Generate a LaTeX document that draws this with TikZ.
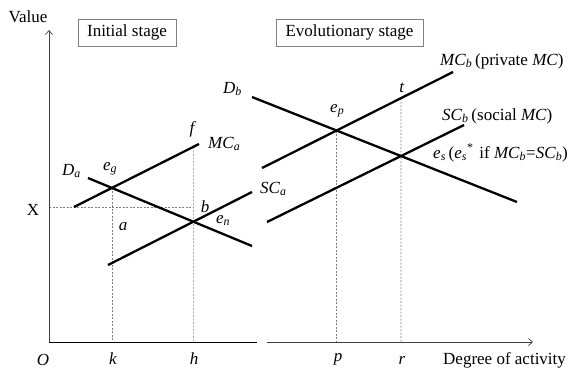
\documentclass[tikz,border=0pt]{standalone}
\usepackage{fontspec}
\setmainfont{Liberation Serif}
\usetikzlibrary{arrows.meta}
\newcommand\ilab[2]{\textit{#1}\textsubscript{\textit{#2}}}
\begin{document}
\begin{tikzpicture}[x=1pt,y=-1pt,
  font=\fontsize{17}{20}\selectfont,
  curve/.style={line width=2.3pt},
  axisline/.style={line width=0.8pt, black!75},
  axisarrow/.style={-{Straight Barb[length=4pt,width=7pt,line width=0.7pt]}},
  guide/.style={gray, line width=0.6pt, dash pattern=on 2pt off 1.5pt},
  stagebox/.style={draw=gray, line width=0.7pt, inner sep=0pt, minimum height=27pt,
    text height=11.5pt, text depth=3.5pt},
  lbl/.style={inner sep=0pt, anchor=base},
  lblw/.style={inner sep=0pt, anchor=base west}]
\useasboundingbox (0,0) rectangle (575,368);

% axes
\coordinate (O) at (49,342);
\coordinate (ytop) at (49,30);
\coordinate (xendA) at (257,342);
\coordinate (xstartB) at (267,342);
\coordinate (xend) at (533,342);

% curve end points
\coordinate (MCa1) at (74,207);  \coordinate (MCa2) at (199,144);
\coordinate (Da1) at (88,178);   \coordinate (Da2) at (252,246);
\coordinate (SCa1) at (108,265); \coordinate (SCa2) at (252,192);
\coordinate (Db1) at (252,97);   \coordinate (Db2) at (517,202);
\coordinate (MCb1) at (262,168); \coordinate (MCb2) at (453,72);
\coordinate (SCb1) at (267,222); \coordinate (SCb2) at (464,125);

% intersections
\coordinate (eg) at (intersection of MCa1--MCa2 and Da1--Da2);
\coordinate (en) at (intersection of SCa1--SCa2 and Da1--Da2);
\coordinate (ep) at (intersection of MCb1--MCb2 and Db1--Db2);
\coordinate (es) at (intersection of SCb1--SCb2 and Db1--Db2);
\coordinate (kfoot) at (eg |- O);
\coordinate (hfoot) at (en |- O);
\coordinate (pfoot) at (ep |- O);
\coordinate (rfoot) at (es |- O);
\coordinate (fpt) at (intersection of MCa1--MCa2 and en--hfoot);
\coordinate (tpt) at (intersection of MCb1--MCb2 and es--rfoot);
\coordinate (Xleft) at (O |- MCa1);
\coordinate (Xright) at (en |- MCa1);

% guides
\draw[guide] (Xleft) -- (Xright);
\draw[guide] (eg) -- (kfoot);
\draw[guide] (fpt) -- (hfoot);
\draw[guide] (ep) -- (pfoot);
\draw[guide] (tpt) -- (rfoot);

% axes
\draw[axisline,axisarrow] (O) -- (ytop);
\draw[axisline,black,line width=1pt] (O) -- (xendA);
\draw[axisline,axisarrow] (xstartB) -- (xend);

% curves
\draw[curve] (MCa1) -- (MCa2);
\draw[curve] (Da1) -- (Da2);
\draw[curve] (SCa1) -- (SCa2);
\draw[curve] (Db1) -- (Db2);
\draw[curve] (MCb1) -- (MCb2);
\draw[curve] (SCb1) -- (SCb2);

% boxes
\node[stagebox, minimum width=98pt] (initbox) at (127,32.5) {Initial stage};
\node[stagebox, minimum width=147pt] (evobox) at (349.5,32.5) {Evolutionary stage};

% axis labels
\node[lbl] (value) at (28,22) {Value};
\node[lblw] (degree) at (443,364) {Degree of activity};
\node[lbl] (Olab) at (43,365) {\textit{O}};
\node[lbl] (klab) at (113,364) {\textit{k}};
\node[lbl] (hlab) at (194,364) {\textit{h}};
\node[lbl] (plab) at (338,361) {\textit{p}};
\node[lbl] (rlab) at (402,364) {\textit{r}};
\node[lbl] (Xlab) at (33,215) {X};

% left panel labels
\node[lbl] (alab) at (123,230) {\textit{a}};
\node[lbl] (blab) at (205,212) {\textit{b}};
\node[lblw] (enlab) at (216,223) {\ilab{e}{n}};
\node[lblw] (Dalab) at (62,175) {\ilab{D}{a}};
\node[lblw] (eglab) at (103,170) {\ilab{e}{g}};
\node[lblw] (SCalab) at (260,193) {\ilab{SC}{a}};
\node[lbl] (flab) at (193,133) {\textit{f}};
\node[lblw] (MCalab) at (208,148) {\ilab{MC}{a}};

% right panel labels
\node[lblw] (Dblab) at (223,93) {\ilab{D}{b}};
\node[lblw] (eplab) at (330,112) {\ilab{e}{p}};
\node[lbl] (tlab) at (402,92) {\textit{t}};
\node[lblw] (MCblab) at (440,65) {\ilab{MC}{b}\,(private \textit{MC})};
\node[lblw] (SCblab) at (442,120) {\ilab{SC}{b}\,(social \textit{MC})};
\node[lblw] (eslab) at (433,158) {\ilab{e}{s}\,(\textit{e}\textsubscript{\textit{s}}\textsuperscript{*}\kern0.1em{} if \ilab{MC}{b}=\ilab{SC}{b})};
\end{tikzpicture}
\end{document}
